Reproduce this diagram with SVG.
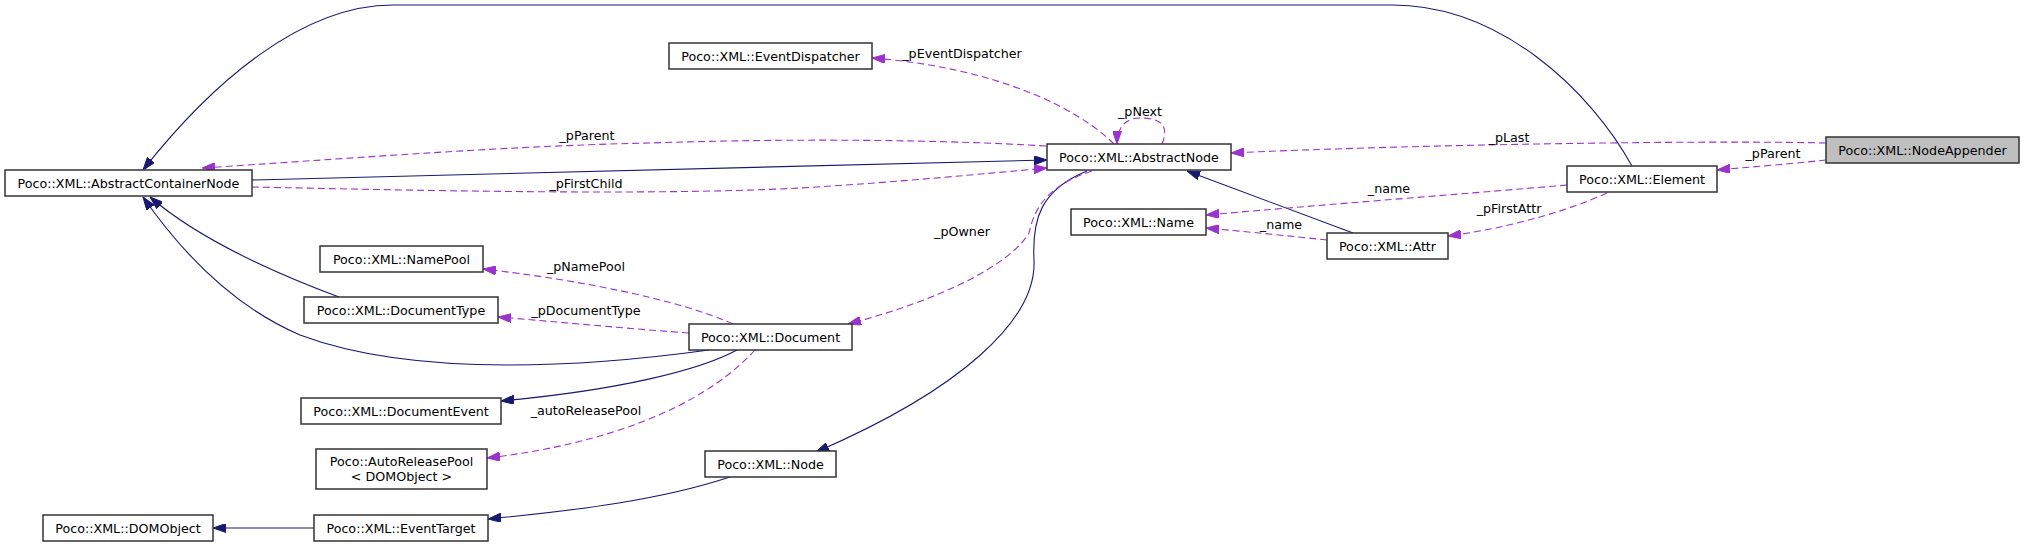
<svg xmlns="http://www.w3.org/2000/svg" width="2024" height="547" viewBox="0 0 2024 547">
<style>
.n rect{fill:#fff;stroke:#333333;stroke-width:1.5}
.n.sel rect{fill:#bfbfbf}
text{font-family:"DejaVu Sans","Liberation Sans",sans-serif;font-size:12.7px;fill:#000;text-anchor:middle}
.e path{fill:none;stroke-width:1.1}
.inh{stroke:#191970;marker-end:url(#ai)}
.use{stroke:#9a32cd;stroke-dasharray:7,4;marker-end:url(#au)}
</style>
<defs>
<marker id="ai" markerUnits="userSpaceOnUse" markerWidth="13" markerHeight="9" refX="13" refY="4.5" orient="auto"><path d="M0,0 L13,4.5 L0,9 z" fill="#191970" stroke="#191970" stroke-width="1"/></marker>
<marker id="au" markerUnits="userSpaceOnUse" markerWidth="13" markerHeight="9" refX="13" refY="4.5" orient="auto"><path d="M0,0 L13,4.5 L0,9 z" fill="#9a32cd" stroke="#9a32cd" stroke-width="1"/></marker>
</defs>
<rect width="2024" height="547" fill="#fff"/>
<g id="edges" class="e">
<path class="inh" d="M1632,166 C1590,90 1500,5 1392,5 L393,5 C300,5 210,85 143,170"/>
<path class="inh" d="M252,180 L1047,160"/>
<path class="inh" d="M1353,233 L1187,171"/>
<path class="inh" d="M339,297 C280,275 200,240 150,197"/>
<path class="inh" d="M709,350 C600,365 420,380 300,335 C230,305 180,250 143,197"/>
<path class="inh" d="M737,350 C700,370 620,390 501,401"/>
<path class="inh" d="M1087,171 C1040,190 1032,220 1034,260 C1037,320 960,390 816,452"/>
<path class="inh" d="M730,477 C660,500 580,510 488,519"/>
<path class="inh" d="M314,528 L213,528"/>
<path class="use" d="M1046,146 C950,140 800,138 650,143 C500,146 330,160 202,168"/>
<path class="use" d="M252,187 C400,190 650,196 800,188 C900,182 980,174 1047,168"/>
<path class="use" d="M1114,144 C1080,110 1000,68 872,58"/>
<path class="use" d="M1162,144 C1170,125 1160,118 1140,118 C1125,118 1117,128 1117,144"/>
<path class="use" d="M1826,143 C1700,140 1400,145 1231,153"/>
<path class="use" d="M1826,160 C1790,164 1750,167 1717,170"/>
<path class="use" d="M1567,185 C1450,195 1320,205 1206,215"/>
<path class="use" d="M1607,193 C1570,210 1510,228 1448,236"/>
<path class="use" d="M1327,240 C1290,236 1250,232 1206,228"/>
<path class="use" d="M1092,171 C1050,185 1035,205 1029,233 C1010,265 940,300 848,324"/>
<path class="use" d="M733,324 C680,300 580,280 483,269"/>
<path class="use" d="M689,333 C620,328 560,322 498,317"/>
<path class="use" d="M755,350 C700,410 600,445 487,458"/>
<text x="587" y="140">_pParent</text>
<text x="586" y="188">_pFirstChild</text>
<text x="962" y="58">_pEventDispatcher</text>
<text x="1140" y="116">_pNext</text>
<text x="1509" y="142">_pLast</text>
<text x="1773" y="158">_pParent</text>
<text x="1389" y="193">_name</text>
<text x="1509" y="213">_pFirstAttr</text>
<text x="1281" y="229">_name</text>
<text x="962" y="236">_pOwner</text>
<text x="586" y="271">_pNamePool</text>
<text x="586" y="315">_pDocumentType</text>
<text x="586" y="415">_autoReleasePool</text>
</g>
<g id="NodeAppender" class="n sel"><rect x="1826" y="137" width="193" height="26"/><text x="1922.5" y="154.5">Poco::XML::NodeAppender</text></g>
<g id="AbstractNode" class="n"><rect x="1047" y="144" width="184" height="26"/><text x="1139" y="161.5">Poco::XML::AbstractNode</text></g>
<g id="Element" class="n"><rect x="1567" y="166" width="150" height="26"/><text x="1642" y="183.5">Poco::XML::Element</text></g>
<g id="AbstractContainerNode" class="n"><rect x="5" y="170" width="247" height="26"/><text x="128.5" y="187.5">Poco::XML::AbstractContainerNode</text></g>
<g id="EventDispatcher" class="n"><rect x="669" y="43" width="203" height="26"/><text x="770.5" y="60.5">Poco::XML::EventDispatcher</text></g>
<g id="Name" class="n"><rect x="1071" y="209" width="135" height="26"/><text x="1138.5" y="226.5">Poco::XML::Name</text></g>
<g id="Attr" class="n"><rect x="1327" y="233" width="121" height="26"/><text x="1387.5" y="250.5">Poco::XML::Attr</text></g>
<g id="NamePool" class="n"><rect x="320" y="246" width="163" height="26"/><text x="401.5" y="263.5">Poco::XML::NamePool</text></g>
<g id="DocumentType" class="n"><rect x="304" y="297" width="194" height="26"/><text x="401" y="314.5">Poco::XML::DocumentType</text></g>
<g id="Document" class="n"><rect x="689" y="324" width="163" height="26"/><text x="770.5" y="341.5">Poco::XML::Document</text></g>
<g id="DocumentEvent" class="n"><rect x="301" y="398" width="200" height="26"/><text x="401" y="415.5">Poco::XML::DocumentEvent</text></g>
<g id="AutoReleasePool" class="n"><rect x="316" y="449" width="171" height="40"/><text x="401.5" y="465.5">Poco::AutoReleasePool</text><text x="401.5" y="480.5">&lt; DOMObject &gt;</text></g>
<g id="Node" class="n"><rect x="705" y="451" width="131" height="26"/><text x="770.5" y="468.5">Poco::XML::Node</text></g>
<g id="DOMObject" class="n"><rect x="43" y="515" width="170" height="26"/><text x="128" y="532.5">Poco::XML::DOMObject</text></g>
<g id="EventTarget" class="n"><rect x="314" y="515" width="174" height="26"/><text x="401" y="532.5">Poco::XML::EventTarget</text></g>
</svg>
